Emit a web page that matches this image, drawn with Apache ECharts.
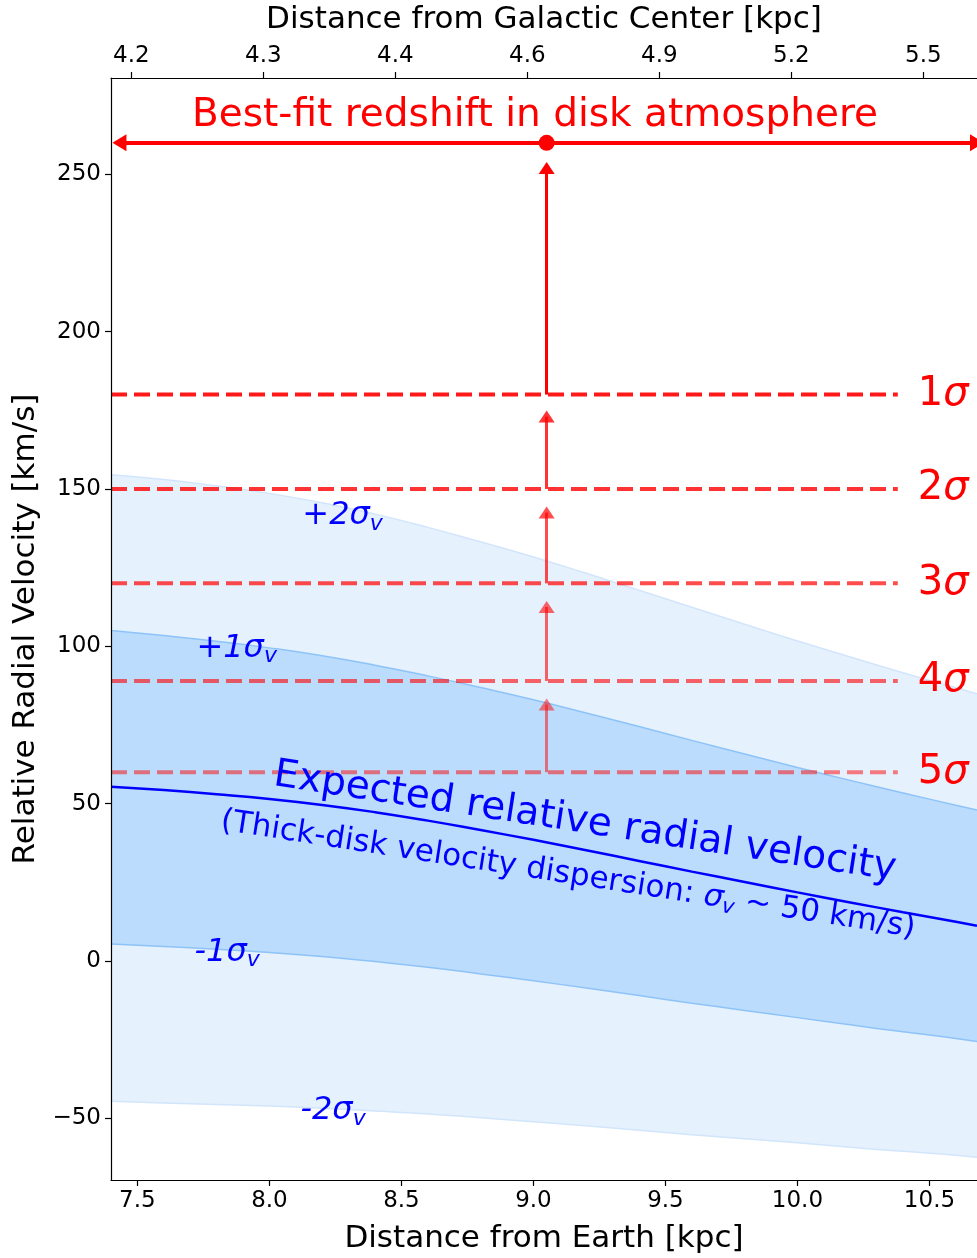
<!DOCTYPE html>
<html>
<head>
<meta charset="utf-8">
<script src="https://cdn.jsdelivr.net/npm/echarts@6/dist/echarts.min.js"></script>
<style>
html,body{margin:0;padding:0;background:#ffffff;}
#chart{width:977px;height:1258px;}
</style>
</head>
<body>
<div id="chart"></div>
<script>
// ---------------- data ----------------
const distEarth = [7.40, 7.60, 7.80, 8.00, 8.20, 8.40, 8.60, 8.80, 9.00, 9.20, 9.40, 9.60, 9.80, 10.00, 10.20, 10.40, 10.60, 10.68];
const expectedVel = [55.4, 54.3, 53.0, 51.5, 49.6, 47.3, 44.6, 41.6, 38.5, 35.2, 31.8, 28.4, 25.1, 21.8, 18.6, 15.5, 12.5, 11.2];
const plus1Sigma  = [105.0, 103.4, 101.6, 99.5, 97.0, 94.0, 90.6, 86.9, 83.0, 78.8, 74.5, 70.1, 65.8, 61.5, 57.4, 53.4, 49.5, 48.0];
const minus1Sigma = [5.4, 4.6, 3.7, 2.7, 1.4, -0.2, -2.0, -4.1, -6.3, -8.6, -11.0, -13.4, -15.7, -18.0, -20.3, -22.5, -24.6, -25.6];
const plus2Sigma  = [154.5, 153.0, 151.0, 148.6, 145.6, 142.0, 137.8, 133.2, 128.4, 123.2, 117.8, 112.4, 107.0, 101.7, 96.6, 91.6, 86.8, 84.9];
const minus2Sigma = [-44.6, -45.1, -45.6, -46.1, -46.8, -47.7, -48.6, -49.8, -51.1, -52.4, -53.8, -55.2, -56.5, -57.8, -59.2, -60.5, -61.7, -62.4];

const sigmaNames  = ['1', '2', '3', '4', '5'];
const sigmaLevels = [180, 150, 120, 89, 60];
const arrowTops   = [252, 173, 142.5, 112.5, 81.5];
const bestFitDist = 9.05;
const bestFitVel  = 260;

const bottomTicks   = [7.5, 8.0, 8.5, 9.0, 9.5, 10.0, 10.5];
const topTickPos    = [7.477, 7.977, 8.477, 8.977, 9.477, 9.977, 10.477];
const topTickLabels = ['4.2', '4.3', '4.4', '4.6', '4.9', '5.2', '5.5'];
const yTicks        = [-50, 0, 50, 100, 150, 200, 250];

// ---------------- layout / style ----------------
const X_MIN = 7.40, X_MAX = 10.68;
const Y_MIN = -69.6, Y_MAX = 280.6;
const DASH_END = 10.38;
const ARROW_LEFT = 7.432;
const FONT = 'DejaVu Sans';
const RED = '#ff0000';
const BLUE = '#0000ff';
const LIGHT_BAND = '#e6f1fe';
const DARK_BAND = '#bbdcfc';
const dashAlpha  = [0.9, 0.8, 0.7, 0.6, 0.5];
const arrowAlpha = [1.0, 0.8, 0.7, 0.6, 0.5];

const pts = ys => distEarth.map((x, i) => [x, ys[i]]);

const axisCommon = {
  z: 20,
  axisLine: { onZero: false, lineStyle: { color: '#000', width: 1.2 } },
  splitLine: { show: false },
  nameTextStyle: { fontFamily: FONT, fontSize: 31, color: '#000' },
  nameLocation: 'middle'
};

const series = [];

// layered opaque band fills (each filled down to the axis bottom)
[[plus2Sigma, LIGHT_BAND], [plus1Sigma, DARK_BAND], [minus1Sigma, LIGHT_BAND], [minus2Sigma, '#ffffff']].forEach(([ys, c]) => {
  series.push({ type: 'line', data: pts(ys), symbol: 'none', smooth: true, silent: true, z: 1,
    lineStyle: { width: 0, opacity: 0 }, areaStyle: { color: c, opacity: 1, origin: 'start' } });
});

// band edges
[[minus2Sigma, '#d2e5fb'], [minus1Sigma, '#8ec3f8'], [plus1Sigma, '#8ec3f8'], [plus2Sigma, '#d2e5fb']].forEach(([ys, c]) => {
  series.push({ type: 'line', data: pts(ys), symbol: 'none', smooth: true, silent: true, z: 2,
    lineStyle: { color: c, width: 1.5 } });
});

// expected line
series.push({ type: 'line', data: pts(expectedVel), symbol: 'none', smooth: true, silent: true, z: 3,
  lineStyle: { color: BLUE, width: 2.5 } });

// sigma dashed lines with labels
sigmaLevels.forEach((lvl, i) => {
  series.push({
    type: 'line', data: [[X_MIN, lvl], [DASH_END, lvl]], symbol: 'none', silent: true, z: 4,
    lineStyle: { color: RED, opacity: dashAlpha[i], width: 4, type: [16, 7] },
    endLabel: {
      show: true, distance: 20, formatter: '{n|' + sigmaNames[i] + '}{s|σ}',
      rich: {
        n: { fontFamily: FONT, fontSize: 40, color: RED },
        s: { fontFamily: FONT, fontSize: 40, fontStyle: 'italic', color: RED }
      }
    }
  });
});

// vertical arrows
series.push({
  type: 'line', data: [], z: 5, silent: true,
  markLine: {
    silent: true, animation: false, symbol: ['none', 'triangle'],
    label: { show: false },
    lineStyle: { color: RED, width: 3, type: 'solid' },
    emphasis: { disabled: true },
    data: sigmaLevels.map((lvl, i) => [
      { coord: [bestFitDist, lvl], lineStyle: { color: RED, width: 3, type: 'solid', opacity: arrowAlpha[i] } },
      { coord: [bestFitDist, arrowTops[i]], symbolSize: [16, 12] }
    ])
  }
});

// horizontal double arrow
series.push({
  type: 'line', data: [], z: 5, silent: true,
  markLine: {
    silent: true, animation: false, symbol: ['triangle', 'triangle'],
    label: { show: false },
    lineStyle: { color: RED, width: 4, type: 'solid', opacity: 1 },
    emphasis: { disabled: true },
    data: [[
      { coord: [ARROW_LEFT, bestFitVel], symbolSize: [17, 14] },
      { coord: [X_MAX, bestFitVel], symbolSize: [17, 14] }
    ]]
  }
});

// best-fit dot
series.push({ type: 'scatter', data: [[bestFitDist, bestFitVel]], symbolSize: 16, z: 6, silent: true,
  itemStyle: { color: RED, opacity: 1 } });

// text annotations
const sigRich = {
  m: { fontFamily: FONT, fontSize: 32, fontStyle: 'italic', color: BLUE, lineHeight: 38 },
  v: { fontFamily: FONT, fontSize: 22, fontStyle: 'italic', color: BLUE, lineHeight: 18, verticalAlign: 'bottom' }
};
const annotations = [
  { pos: [9.006, 268.7], text: 'Best-fit redshift in disk atmosphere', style: { fontSize: 39, color: RED } },
  { pos: [8.277, 141.4], text: '{m|+2σ}{v|v}', style: { rich: sigRich } },
  { pos: [7.876, 99.3], text: '{m|+1σ}{v|v}', style: { rich: sigRich } },
  { pos: [7.840, 2.7], text: '{m|-1σ}{v|v}', style: { rich: sigRich } },
  { pos: [8.241, -47.7], text: '{m|-2σ}{v|v}', style: { rich: sigRich } },
  { pos: [9.195, 44.0], text: 'Expected relative radial velocity', style: { fontSize: 39, color: BLUE, rotate: -8.7 } },
  { pos: [9.131, 27.3], text: '(Thick-disk velocity dispersion: {s|σ}{v|v} ~ 50 km/s)',
    style: { fontSize: 31, color: BLUE, rotate: -8.8, lineHeight: 36,
      rich: {
        s: { fontFamily: FONT, fontSize: 31, fontStyle: 'italic', color: BLUE, lineHeight: 36 },
        v: { fontFamily: FONT, fontSize: 21, fontStyle: 'italic', color: BLUE, lineHeight: 17, verticalAlign: 'bottom' }
      } } }
];
series.push({
  type: 'scatter', z: 7, silent: true, symbol: 'circle', symbolSize: 0,
  itemStyle: { color: 'rgba(0,0,0,0)', opacity: 1 },
  data: annotations.map(a => ({
    value: a.pos,
    label: Object.assign({ show: true, position: 'inside', align: 'center', verticalAlign: 'middle',
      fontFamily: FONT, formatter: a.text, opacity: 1 }, a.style)
  }))
});

const option = {
  animation: false,
  backgroundColor: '#ffffff',
  grid: { left: 111, right: 0, top: 78, bottom: 78, containLabel: false, outerBoundsMode: 'none' },
  xAxis: [
    Object.assign({}, axisCommon, {
      type: 'value', position: 'bottom', min: X_MIN, max: X_MAX,
      name: 'Distance from Earth [kpc]', nameGap: 43,
      axisTick: { show: true, inside: false, length: 6, customValues: bottomTicks, lineStyle: { color: '#000', width: 1.2 } },
      axisLabel: { customValues: bottomTicks, formatter: v => v.toFixed(1), fontFamily: FONT, fontSize: 23, color: '#000', margin: 10 }
    }),
    Object.assign({}, axisCommon, {
      type: 'value', position: 'top', min: X_MIN, max: X_MAX,
      name: 'Distance from Galactic Center [kpc]', nameGap: 43,
      axisTick: { show: true, inside: false, length: 6, customValues: topTickPos, lineStyle: { color: '#000', width: 1.2 } },
      axisLabel: { customValues: topTickPos, fontFamily: FONT, fontSize: 23, color: '#000', margin: 10,
        formatter: v => {
          let best = 0;
          topTickPos.forEach((p, i) => { if (Math.abs(p - v) < Math.abs(topTickPos[best] - v)) best = i; });
          return topTickLabels[best];
        } }
    })
  ],
  yAxis: Object.assign({}, axisCommon, {
    type: 'value', min: Y_MIN, max: Y_MAX,
    name: 'Relative Radial Velocity [km/s]', nameGap: 64, nameRotate: 90,
    axisTick: { show: true, inside: false, length: 6, customValues: yTicks, lineStyle: { color: '#000', width: 1.2 } },
    axisLabel: { customValues: yTicks, fontFamily: FONT, fontSize: 23, color: '#000', margin: 10,
      formatter: v => (v < 0 ? '\u2212' + Math.abs(v) : String(v)) }
  }),
  series: series
};

const chart = echarts.init(document.getElementById('chart'), null, { renderer: 'canvas' });
chart.setOption(option);
</script>
</body>
</html>
